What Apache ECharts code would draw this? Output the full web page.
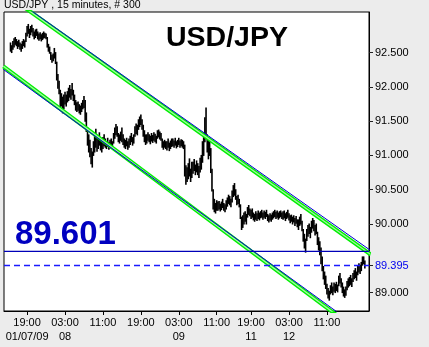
<!DOCTYPE html>
<html><head><meta charset="utf-8">
<script src="https://cdn.jsdelivr.net/npm/echarts@6/dist/echarts.min.js"></script>
<style>html,body{margin:0;padding:0;background:#ececec}#c{width:429px;height:347px}</style>
</head><body><div id="c"></div>
<script>
const lows = [
92.52,92.50,92.55,92.58,92.62,92.60,92.56,92.59,92.55,92.52,
92.56,92.60,92.58,92.66,92.74,92.78,92.72,92.76,92.80,92.74,
92.70,92.72,92.75,92.70,92.68,92.70,92.67,92.69,92.71,92.72,
92.70,92.58,92.52,92.49,92.40,92.36,92.38,92.42,92.34,92.10,
91.98,91.90,91.70,91.72,91.62,91.68,91.75,91.72,91.78,91.80,
91.85,91.82,91.88,91.80,91.74,91.66,91.64,91.66,91.62,91.60,
91.64,91.68,91.70,91.50,91.35,91.15,91.05,90.98,90.88,90.83,
91.00,91.05,91.12,91.06,91.10,91.15,91.08,91.05,91.10,91.14,
91.12,91.10,91.13,91.09,91.11,91.14,91.10,91.18,91.25,91.30,
91.28,91.20,91.18,91.22,91.20,91.16,91.12,91.10,91.14,91.09,
91.12,91.16,91.20,91.15,91.18,91.28,91.32,91.30,91.38,91.42,
91.45,91.38,91.28,91.20,91.16,91.18,91.22,91.20,91.17,91.21,
91.19,91.22,91.20,91.18,91.25,91.27,91.24,91.22,91.12,91.09,
91.12,91.10,91.08,91.12,91.07,91.10,91.13,91.14,91.12,91.15,
91.11,91.13,91.16,91.12,91.14,91.12,91.10,90.70,90.58,90.62,
90.66,90.70,90.62,90.68,90.74,90.78,90.72,90.76,90.72,90.68,
90.76,90.80,90.90,91.00,91.20,91.30,91.05,90.95,91.00,90.75,
90.48,90.22,90.18,90.16,90.20,90.20,90.22,90.19,90.21,90.24,
90.20,90.18,90.22,90.26,90.30,90.28,90.25,90.32,90.40,90.42,
90.36,90.28,90.30,90.25,90.08,89.92,89.95,90.00,90.04,90.00,
90.10,90.14,90.12,90.08,90.10,90.06,90.04,90.07,90.05,90.08,
90.06,90.09,90.10,90.07,90.10,90.08,90.11,90.05,90.03,90.06,
90.04,90.07,90.09,90.11,90.08,90.10,90.07,90.09,90.11,90.08,
90.07,90.09,90.05,90.08,90.10,90.06,90.02,90.04,90.00,90.03,
89.98,90.01,89.96,89.92,89.98,90.00,89.90,89.75,89.65,89.59,
89.76,89.82,89.86,89.80,89.88,89.94,89.90,89.84,89.86,89.70,
89.62,89.55,89.42,89.32,89.20,89.12,89.06,88.98,88.92,88.89,
88.98,89.00,88.97,89.02,89.00,89.03,89.01,89.10,89.14,89.08,
89.00,88.95,88.93,88.96,89.04,89.08,89.10,89.12,89.09,89.16,
89.20,89.22,89.18,89.26,89.30,89.28,89.32,89.40,89.42,89.36
];
const highs = [
92.64,92.60,92.66,92.70,92.72,92.69,92.66,92.68,92.64,92.62,
92.66,92.69,92.67,92.78,92.88,92.91,92.84,92.88,92.90,92.85,
92.80,92.83,92.84,92.80,92.77,92.79,92.76,92.78,92.80,92.78,
92.77,92.72,92.62,92.58,92.50,92.46,92.48,92.56,92.50,92.36,
92.18,92.08,91.95,91.90,91.85,91.88,91.92,91.88,91.93,91.98,
92.02,91.96,92.05,91.95,91.88,91.80,91.77,91.78,91.74,91.72,
91.76,91.80,91.86,91.80,91.62,91.40,91.30,91.22,91.10,91.05,
91.20,91.30,91.38,91.26,91.28,91.33,91.24,91.20,91.26,91.30,
91.24,91.20,91.25,91.19,91.22,91.24,91.20,91.32,91.40,91.45,
91.42,91.32,91.30,91.34,91.40,91.30,91.24,91.22,91.25,91.20,
91.24,91.28,91.32,91.26,91.30,91.42,91.46,91.44,91.52,91.56,
91.59,91.52,91.44,91.36,91.30,91.30,91.33,91.30,91.28,91.32,
91.29,91.33,91.31,91.28,91.36,91.37,91.34,91.32,91.24,91.20,
91.22,91.20,91.20,91.24,91.18,91.21,91.24,91.24,91.21,91.25,
91.20,91.22,91.25,91.21,91.23,91.22,91.20,91.15,90.85,90.82,
90.88,90.95,90.80,90.90,90.90,90.94,90.86,90.92,90.88,90.84,
90.96,91.00,91.20,91.30,91.55,91.69,91.30,91.25,91.22,91.10,
90.80,90.50,90.36,90.30,90.34,90.32,90.33,90.29,90.32,90.36,
90.30,90.28,90.34,90.38,90.42,90.40,90.36,90.48,90.56,90.59,
90.50,90.40,90.42,90.36,90.28,90.10,90.12,90.16,90.18,90.14,
90.24,90.27,90.22,90.20,90.22,90.16,90.14,90.18,90.15,90.19,
90.16,90.18,90.20,90.16,90.19,90.17,90.20,90.14,90.12,90.15,
90.13,90.16,90.18,90.20,90.17,90.19,90.16,90.18,90.19,90.16,
90.18,90.19,90.15,90.17,90.20,90.15,90.12,90.13,90.10,90.12,
90.08,90.11,90.06,90.06,90.10,90.14,90.04,89.92,89.85,89.78,
89.92,89.98,90.00,89.95,90.04,90.08,90.05,89.98,90.00,89.88,
89.80,89.74,89.65,89.52,89.38,89.30,89.24,89.12,89.06,89.02,
89.10,89.14,89.08,89.14,89.12,89.15,89.11,89.24,89.28,89.20,
89.14,89.08,89.04,89.08,89.16,89.20,89.22,89.25,89.20,89.28,
89.32,89.35,89.30,89.38,89.42,89.40,89.44,89.52,89.52,89.46
];
const tickIdx = [14, 46, 78, 110, 142, 174, 203, 235, 267];
const tickTimes = ['19:00','03:00','11:00','19:00','03:00','11:00','19:00','03:00','11:00'];
const tickDates = ['01/07/09','08','','','09','','11','12',''];
const yTicks = [89.0, 90.0, 90.5, 91.0, 91.5, 92.0, 92.5];
const lastPrice = 89.395;
const cursorPrice = 89.601;
const upperBlue = [[-6, 93.398], [304, 89.612]];
const upperGreen = [[-6, 93.377], [304, 89.554]];
const lowerBlue = [[-6, 92.254], [304, 88.360]];
const lowerGreen = [[-6, 92.299], [304, 88.300]];
const titleText = 'USD/JPY';
const headerText = 'USD/JPY , 15 minutes, # 300';

const X_MIN = -5.485, X_MAX = 302.5;
const Y_MIN = 88.7315, Y_MAX = 93.0915;
const chart = echarts.init(document.getElementById('c'), null, {renderer: 'canvas'});
const FONT = 'Liberation Sans, Arial, sans-serif';
const barData = lows.map((l, i) => [i, l, highs[i]]);

function chanLine(data, color, width, z) {
  return {type: 'line', data: data, symbol: 'none', clip: true, silent: true, z: z,
    lineStyle: {color: color, width: width}, animation: false};
}

chart.setOption({
  backgroundColor: '#ececec',
  animation: false,
  grid: {left: 4, top: 12, right: 60, bottom: 36, show: true, backgroundColor: '#ffffff', borderColor: '#000', borderWidth: 1},
  xAxis: {
    type: 'value', min: X_MIN, max: X_MAX,
    splitLine: {show: false},
    axisLine: {show: true, onZero: false, lineStyle: {color: '#000'}},
    axisTick: {show: true, length: 4, customValues: tickIdx, lineStyle: {color: '#000'}},
    axisLabel: {
      customValues: tickIdx, color: '#000', fontSize: 11, fontFamily: FONT, lineHeight: 14, margin: 5,
      formatter: function (v) {
        const k = tickIdx.indexOf(Math.round(v));
        if (k < 0) return '';
        return tickDates[k] ? tickTimes[k] + '\n' + tickDates[k] : tickTimes[k] + '\n ';
      }
    }
  },
  yAxis: {
    type: 'value', position: 'right', min: Y_MIN, max: Y_MAX,
    splitLine: {show: false},
    axisLine: {show: true, onZero: false, lineStyle: {color: '#000'}},
    axisTick: {show: true, length: 4, customValues: yTicks.concat([lastPrice]), lineStyle: {color: '#222'}},
    axisLabel: {
      customValues: yTicks.concat([lastPrice]), color: '#000', fontSize: 11, fontFamily: FONT, margin: 6,
      formatter: function (v) {
        return Math.abs(v - lastPrice) < 1e-6 ? '{b|' + v.toFixed(3) + '}' : v.toFixed(3);
      },
      rich: {b: {color: '#0000ee', fontSize: 11, fontFamily: FONT}}
    }
  },
  graphic: [
    {type: 'text', left: 4, top: 0, style: {text: headerText, fill: '#000', font: '10.5px ' + FONT}},
    {type: 'text', left: 166, top: 24, style: {text: titleText, fill: '#000', font: 'bold 28.5px ' + FONT}, z: 100},
    {type: 'text', left: 15, top: 218, style: {text: cursorPrice.toFixed(3), fill: '#0000c0', font: 'bold 33px ' + FONT}, z: 100}
  ],
  series: [
    {
      type: 'custom', data: barData, clip: true, silent: true, z: 3,
      encode: {x: 0, y: [1, 2]},
      renderItem: function (params, api) {
        const x = api.value(0);
        const lo = api.coord([x, api.value(1)]);
        const hi = api.coord([x, api.value(2)]);
        return {type: 'line', shape: {x1: lo[0], y1: lo[1] + 0.5, x2: hi[0], y2: hi[1] - 0.5},
          style: {stroke: '#000', lineWidth: 1.6}};
      }
    },
    chanLine(upperGreen, '#00ee00', 4, 4),
    chanLine(upperGreen, '#a6f7a6', 1.3, 5),
    chanLine(lowerGreen, '#00ee00', 4, 4),
    chanLine(lowerGreen, '#a6f7a6', 1.3, 5),
    chanLine(upperBlue, '#0000d0', 1, 6),
    chanLine(lowerBlue, '#0000d0', 1, 6),
    {type: 'line', data: [[X_MIN, cursorPrice], [X_MAX, cursorPrice]], symbol: 'none', silent: true, z: 7,
      lineStyle: {color: '#0000b8', width: 1.2}},
    {type: 'line', data: [[X_MIN, lastPrice], [X_MAX, lastPrice]], symbol: 'none', silent: true, z: 7,
      lineStyle: {color: '#1a1aff', width: 1.3, type: [6, 4]}}
  ]
});
</script>
</body></html>
